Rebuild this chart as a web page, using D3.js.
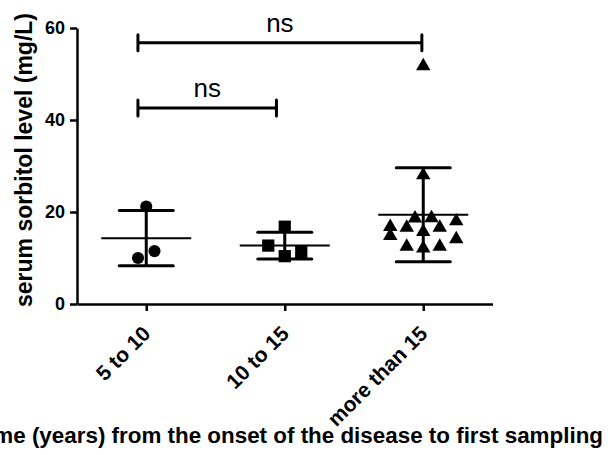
<!DOCTYPE html>
<meta charset="utf-8">
<style>
body { margin: 0; background: #fff; }
svg text { font-family: "Liberation Sans", Arial, sans-serif; fill: #000; }
.axis path, .axis line { stroke: #000; stroke-width: 2.5px; }
.axis text { font-size: 18px; font-weight: bold; }
.xaxis text { font-size: 21px; }
.title { font-size: 23px; font-weight: bold; }
.bar { stroke: #000; fill: none; }
</style>
<svg width="608" height="455"></svg>
<script src="https://cdn.jsdelivr.net/npm/d3@7"></script>
<script>

var categories = ["5 to 10", "10 to 15", "more than 15"];
var means = [14.3, 12.7, 19.4];
var sds = [6.0, 2.9, 10.2];
var values = [
  [21.2, 10.0, 11.5],
  [12.7, 16.8, 10.4, 11.3],
  [51.7, 28.0, 18.6, 18.7, 18.0, 16.8, 14.8, 16.6, 16.6, 15.7, 14.1, 12.5, 12.1, 12.5]
];
// scatter column slot of each point (GraphPad style spread)
var slots = [
  [0, -0.5, 0.5],
  [-1, 0, 0, 1],
  [0, 0, -0.5, 0.5, 2, -2, -2, -1, 1, 0, 2, -1, 0, 1]
];
var yTicks = [0, 20, 40, 60];
var brackets = [
  {from: -0.06, to: 1.99, y: 56.8, label: "ns"},
  {from: -0.06, to: 0.94, y: 42.6, label: "ns"}
];

var svg = d3.select("svg");

var x = d3.scaleLinear().domain([-0.5, 2.5]).range([77, 492.5]),
    y = d3.scaleLinear().domain([0, 60]).range([304, 28]);

var slotW = 16.5;
var symbols = [d3.symbolCircle, d3.symbolSquare, d3.symbolTriangle],
    sizes = [115, 150, 90];

// y axis
svg.append("g")
    .attr("class", "axis")
    .attr("transform", "translate(77,0)")
    .call(d3.axisLeft(y).tickValues(yTicks).tickSize(7).tickSizeOuter(0).tickPadding(5));

// x axis
var xa = svg.append("g")
    .attr("class", "axis xaxis")
    .attr("transform", "translate(0,304)")
    .call(d3.axisBottom(x).tickValues([0, 1, 2]).tickSize(7).tickSizeOuter(0)
      .tickFormat(function(i) { return categories[i]; }));

xa.selectAll("text")
    .attr("text-anchor", "end")
    .attr("dy", null)
    .attr("y", null)
    .attr("transform", "translate(5,31) rotate(-45)");

// titles
svg.append("text")
    .attr("class", "title")
    .attr("transform", "translate(32,160) rotate(-90)")
    .attr("text-anchor", "middle")
    .text("serum sorbitol level (mg/L)");

svg.append("text")
    .attr("class", "title")
    .attr("x", 603)
    .attr("y", 443)
    .attr("text-anchor", "end")
    .style("font-size", "22.4px")
    .text("Time (years) from the onset of the disease to first sampling");

// mean and SD
var grp = svg.selectAll(".grp")
    .data(categories)
  .enter().append("g")
    .attr("class", "grp");

grp.append("line")
    .attr("class", "bar")
    .attr("x1", function(d, i) { return x(i) - 45; })
    .attr("x2", function(d, i) { return x(i) + 45; })
    .attr("y1", function(d, i) { return y(means[i]); })
    .attr("y2", function(d, i) { return y(means[i]); })
    .style("stroke-width", 2);

grp.append("line")
    .attr("class", "bar")
    .attr("x1", function(d, i) { return x(i); })
    .attr("x2", function(d, i) { return x(i); })
    .attr("y1", function(d, i) { return y(means[i] - sds[i]); })
    .attr("y2", function(d, i) { return y(means[i] + sds[i]); })
    .style("stroke-width", 3);

[-1, 1].forEach(function(s) {
  grp.append("line")
      .attr("class", "bar")
      .attr("x1", function(d, i) { return x(i) - 27; })
      .attr("x2", function(d, i) { return x(i) + 27; })
      .attr("y1", function(d, i) { return y(means[i] + s * sds[i]); })
      .attr("y2", function(d, i) { return y(means[i] + s * sds[i]); })
      .style("stroke-width", 3)
      .style("stroke-linecap", "round");
});

// points
grp.each(function(d, i) {
  var sym = d3.symbol().type(symbols[i]).size(sizes[i]);
  d3.select(this).selectAll("path.pt")
      .data(values[i])
    .enter().append("path")
      .attr("class", "pt")
      .attr("d", sym)
      .attr("transform", function(v, j) {
        return "translate(" + (x(i) + slots[i][j] * slotW) + "," + y(v) + ")";
      })
      .style("fill", "#000");
});

// significance brackets
var br = svg.selectAll(".br")
    .data(brackets)
  .enter().append("g")
    .attr("class", "br");

br.append("path")
    .attr("d", function(b) {
      var y0 = y(b.y), x0 = x(b.from), x1 = x(b.to);
      return "M" + x0 + "," + (y0 - 8) + "V" + (y0 + 8) +
             "M" + x0 + "," + y0 + "H" + x1 +
             "M" + x1 + "," + (y0 - 8) + "V" + (y0 + 8);
    })
    .style("fill", "none")
    .style("stroke", "#000")
    .style("stroke-width", 3)
    .style("stroke-linecap", "round");

br.append("text")
    .attr("x", function(b) { return (x(b.from) + x(b.to)) / 2; })
    .attr("y", function(b) { return y(b.y) - 11; })
    .attr("text-anchor", "middle")
    .style("font-size", "26px")
    .text(function(b) { return b.label; });

</script>
